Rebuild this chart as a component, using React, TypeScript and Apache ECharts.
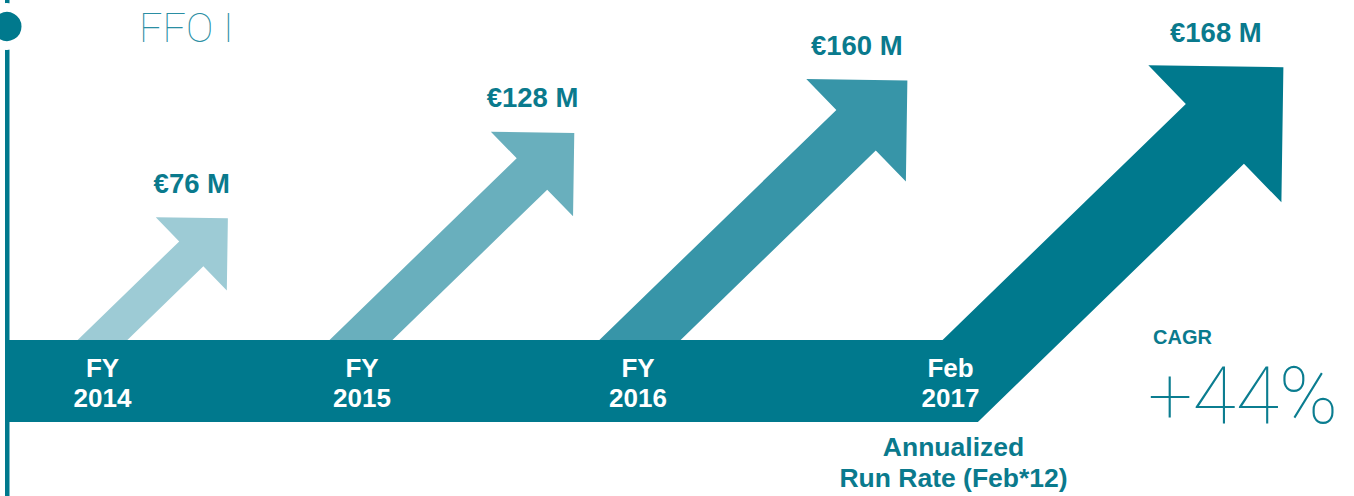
import React, { useEffect, useRef } from "react";
import * as echarts from "echarts";

// ---------- data ----------
const CATEGORIES = ["FY\n2014", "FY\n2015", "FY\n2016", "Feb\n2017"];
const FFO_VALUES = [76, 128, 160, 168]; // € million
const CATEGORY_NOTES = ["", "", "", "Annualized\nRun Rate (Feb*12)"];
const TITLE = "FFO I";
const CAGR_LABEL = "CAGR";
const CAGR_VALUE = "+44%";

// ---------- styles / layout ----------
const TEAL = "#00798d";
const TEXT_TEAL = "#0a7a8d";
const ARROW_COLORS = ["#9dcbd5", "#69afbd", "#3795a8", TEAL];
const ARROW_HEAD = [51, 59, 71.5, 95.5]; // head half-width (px)
const ARROW_BODY = [17.3, 21.9, 28.3, 41.7]; // body half-width (px)
const BASE_NUDGE_X = [23.5, -16, -35, 29.5];
const LABEL_NUDGE_X = [0, 1, -2, -52];
const LAYOUT = { bandTop: 340, bandBottom: 422, bandLeft: 9, bandRight: 962, slope: 1.03 };
const BOLD = "'Liberation Sans', Arial, sans-serif";
const THIN = "Roboto, Lato, 'Noto Sans', sans-serif";

export default function App() {
  const ref = useRef<HTMLDivElement>(null);

  useEffect(() => {
    if (!ref.current) return;
    const chart = echarts.init(ref.current, undefined, { renderer: "svg" });
    const last = FFO_VALUES.length - 1;

    const renderItem = (params: any, api: any) => {
      const i = params.dataIndex;
      const v = api.value(1);
      const [cx] = api.coord([i, 0]);
      const [, ty] = api.coord([i, v]);
      const head = ARROW_HEAD[i];
      const body = ARROW_BODY[i];
      const px = cx + BASE_NUDGE_X[i];
      const py = LAYOUT.bandTop;
      const tx = px + (py - ty) * LAYOUT.slope;
      const len = Math.hypot(tx - px, py - ty);
      const ux = (tx - px) / len;
      const uy = (ty - py) / len;
      const nx = -uy;
      const ny = ux;
      const Cx = tx - head * ux;
      const Cy = ty - head * uy;
      const L = [Cx - head * nx, Cy - head * ny];
      const B = [Cx + head * nx, Cy + head * ny];
      const N1 = [Cx - body * nx, Cy - body * ny];
      const N2 = [Cx + body * nx, Cy + body * ny];
      const by = i === last ? LAYOUT.bandBottom : (LAYOUT.bandTop + LAYOUT.bandBottom) / 2;
      const t1 = (by - N1[1]) / -uy;
      const t2 = (by - N2[1]) / -uy;
      const Lb = [N1[0] - ux * t1, by];
      const Rb = [N2[0] - ux * t2, by];

      const children: any[] = [
        {
          type: "polygon",
          z2: 1,
          shape: { points: [Lb, N1, L, [tx, ty], B, N2, Rb] },
          style: { fill: ARROW_COLORS[i] },
        },
        {
          type: "text",
          z2: 2,
          style: {
            text: "€" + FFO_VALUES[i] + " M",
            x: (L[0] + tx) / 2,
            y: ty - 35,
            align: "center",
            verticalAlign: "middle",
            fill: TEXT_TEAL,
            fontFamily: BOLD,
            fontWeight: "bold",
            fontSize: 27.5,
          },
        },
        {
          type: "text",
          z2: 20,
          style: {
            text: CATEGORIES[i],
            x: px + LABEL_NUDGE_X[i],
            y: (LAYOUT.bandTop + LAYOUT.bandBottom) / 2 + 2,
            align: "center",
            verticalAlign: "middle",
            fill: "#ffffff",
            fontFamily: BOLD,
            fontWeight: "bold",
            fontSize: 26,
            lineHeight: 30,
          },
        },
      ];
      if (CATEGORY_NOTES[i]) {
        children.push({
          type: "text",
          z2: 20,
          style: {
            text: CATEGORY_NOTES[i],
            x: px + LABEL_NUDGE_X[i] + 3,
            y: 462.5,
            align: "center",
            verticalAlign: "middle",
            fill: TEXT_TEAL,
            fontFamily: BOLD,
            fontWeight: "bold",
            fontSize: 26.5,
            lineHeight: 31,
          },
        });
      }
      if (i === 0) {
        children.push({
          type: "rect",
          z2: 10,
          shape: {
            x: LAYOUT.bandLeft,
            y: LAYOUT.bandTop,
            width: LAYOUT.bandRight - LAYOUT.bandLeft,
            height: LAYOUT.bandBottom - LAYOUT.bandTop,
          },
          style: { fill: TEAL },
        });
      }
      return { type: "group", children };
    };

    chart.setOption({
      animation: false,
      grid: { left: 79, width: 894, top: 0, height: 343 },
      xAxis: { type: "category", data: CATEGORIES, boundaryGap: false, show: false },
      yAxis: { type: "value", min: 0, max: 209, show: false },
      series: [
        {
          type: "custom",
          clip: false,
          silent: true,
          data: FFO_VALUES.map((v, i) => [i, v]),
          renderItem,
        },
      ],
      graphic: [
        { type: "rect", z: 50, shape: { x: 5, y: 0, width: 4.5, height: 496 }, style: { fill: TEAL } },
        {
          type: "circle",
          z: 51,
          shape: { cx: 7, cy: 26.5, r: 19 },
          style: { fill: TEAL, stroke: "#ffffff", lineWidth: 9 },
        },
        {
          type: "text",
          z: 51,
          style: {
            text: TITLE,
            x: 139,
            y: 28,
            verticalAlign: "middle",
            fill: "#2a8ea3",
            fontFamily: THIN,
            fontWeight: 100,
            fontSize: 41,
          },
        },
        {
          type: "text",
          z: 51,
          style: {
            text: CAGR_LABEL,
            x: 1153,
            y: 337,
            verticalAlign: "middle",
            fill: TEXT_TEAL,
            fontFamily: BOLD,
            fontWeight: "bold",
            fontSize: 20,
          },
        },
        {
          type: "text",
          z: 51,
          style: {
            text: CAGR_VALUE,
            x: 1148,
            y: 396,
            verticalAlign: "middle",
            fill: "#0b7d90",
            fontFamily: THIN,
            fontWeight: 100,
            fontSize: 79,
          },
        },
      ],
    });

    return () => chart.dispose();
  }, []);

  return (
    <div
      ref={ref}
      style={{ position: "fixed", left: 0, top: 0, width: 1354, height: 496, background: "#ffffff" }}
    />
  );
}
